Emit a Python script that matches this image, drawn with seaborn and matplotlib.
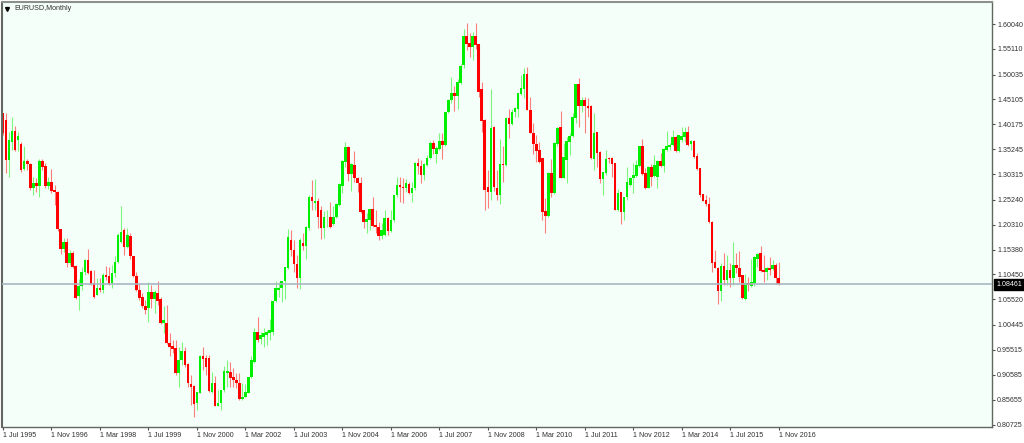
import pandas as pd
import seaborn as sns
import matplotlib.pyplot as plt
from matplotlib.transforms import blended_transform_factory

opens = [
    1.424, 1.410, 1.331, 1.367, 1.389, 1.371, 1.362, 1.313, 1.329, 1.323,
    1.275, 1.286, 1.280, 1.329, 1.319, 1.280, 1.288, 1.272, 1.268, 1.194,
    1.154, 1.169, 1.128, 1.146, 1.121, 1.062, 1.082, 1.110, 1.134, 1.112,
    1.087, 1.064, 1.077, 1.074, 1.103, 1.101, 1.087, 1.108, 1.130, 1.169,
    1.193, 1.158, 1.181, 1.140, 1.101, 1.074, 1.059, 1.042, 1.037, 1.070,
    1.055, 1.068, 1.055, 1.008, 1.009, 0.969, 0.963, 0.958, 0.910, 0.935,
    0.952, 0.927, 0.888, 0.884, 0.849, 0.870, 0.942, 0.938, 0.938, 0.872,
    0.889, 0.844, 0.849, 0.876, 0.910, 0.912, 0.901, 0.895, 0.890, 0.857,
    0.862, 0.870, 0.901, 0.932, 0.991, 0.976, 0.981, 0.985, 0.988, 0.991,
    1.051, 1.074, 1.077, 1.092, 1.117, 1.173, 1.153, 1.125, 1.097, 1.167,
    1.160, 1.196, 1.258, 1.245, 1.249, 1.232, 1.196, 1.218, 1.219, 1.204,
    1.218, 1.242, 1.280, 1.328, 1.356, 1.303, 1.321, 1.296, 1.286, 1.232,
    1.209, 1.212, 1.235, 1.202, 1.199, 1.181, 1.183, 1.216, 1.191, 1.212,
    1.262, 1.282, 1.278, 1.276, 1.283, 1.266, 1.275, 1.325, 1.320, 1.301,
    1.321, 1.336, 1.365, 1.342, 1.353, 1.369, 1.361, 1.427, 1.449, 1.464,
    1.458, 1.484, 1.519, 1.577, 1.562, 1.555, 1.577, 1.561, 1.471, 1.410,
    1.277, 1.268, 1.397, 1.275, 1.262, 1.323, 1.321, 1.415, 1.402, 1.427,
    1.433, 1.462, 1.471, 1.501, 1.431, 1.385, 1.362, 1.351, 1.336, 1.230,
    1.220, 1.306, 1.265, 1.363, 1.396, 1.296, 1.331, 1.367, 1.379, 1.414,
    1.481, 1.438, 1.450, 1.438, 1.438, 1.334, 1.387, 1.346, 1.293, 1.305,
    1.336, 1.336, 1.325, 1.233, 1.268, 1.229, 1.257, 1.282, 1.295, 1.299,
    1.319, 1.358, 1.306, 1.276, 1.317, 1.299, 1.298, 1.329, 1.320, 1.351,
    1.356, 1.361, 1.376, 1.348, 1.371, 1.377, 1.387, 1.363, 1.369, 1.339,
    1.315, 1.263, 1.251, 1.244, 1.209, 1.130, 1.118, 1.072, 1.121, 1.093,
    1.113, 1.097, 1.123, 1.118, 1.103, 1.056, 1.087, 1.082, 1.088, 1.136,
    1.146, 1.113, 1.110, 1.117, 1.115, 1.123, 1.097,
]
highs = [
    1.424, 1.424, 1.387, 1.417, 1.398, 1.387, 1.367, 1.358, 1.334, 1.326,
    1.298, 1.295, 1.334, 1.334, 1.325, 1.298, 1.313, 1.282, 1.270, 1.194,
    1.176, 1.176, 1.153, 1.150, 1.123, 1.095, 1.120, 1.136, 1.154, 1.113,
    1.113, 1.097, 1.097, 1.108, 1.121, 1.120, 1.123, 1.140, 1.186, 1.240,
    1.196, 1.196, 1.186, 1.140, 1.110, 1.087, 1.067, 1.054, 1.090, 1.084,
    1.074, 1.092, 1.059, 1.041, 1.044, 0.988, 0.975, 0.975, 0.961, 0.971,
    0.960, 0.930, 0.905, 0.886, 0.872, 0.945, 0.960, 0.945, 0.945, 0.912,
    0.903, 0.876, 0.876, 0.923, 0.935, 0.932, 0.919, 0.909, 0.909, 0.889,
    0.888, 0.902, 0.942, 0.998, 1.021, 0.991, 0.998, 0.994, 1.016, 1.051,
    1.092, 1.090, 1.092, 1.119, 1.194, 1.193, 1.173, 1.143, 1.176, 1.186,
    1.200, 1.262, 1.292, 1.293, 1.255, 1.239, 1.231, 1.233, 1.247, 1.239,
    1.245, 1.285, 1.331, 1.367, 1.358, 1.326, 1.348, 1.298, 1.298, 1.233,
    1.226, 1.235, 1.258, 1.232, 1.208, 1.207, 1.232, 1.219, 1.232, 1.262,
    1.298, 1.298, 1.295, 1.293, 1.288, 1.288, 1.328, 1.336, 1.331, 1.325,
    1.341, 1.369, 1.371, 1.358, 1.385, 1.384, 1.427, 1.451, 1.496, 1.478,
    1.491, 1.521, 1.590, 1.602, 1.582, 1.584, 1.603, 1.561, 1.486, 1.412,
    1.311, 1.472, 1.398, 1.311, 1.372, 1.358, 1.416, 1.433, 1.433, 1.437,
    1.464, 1.499, 1.513, 1.515, 1.456, 1.404, 1.381, 1.367, 1.336, 1.255,
    1.308, 1.334, 1.367, 1.397, 1.429, 1.364, 1.377, 1.385, 1.424, 1.482,
    1.493, 1.456, 1.456, 1.453, 1.440, 1.424, 1.387, 1.348, 1.308, 1.350,
    1.338, 1.338, 1.325, 1.273, 1.268, 1.258, 1.318, 1.298, 1.325, 1.331,
    1.359, 1.372, 1.315, 1.320, 1.323, 1.341, 1.331, 1.344, 1.354, 1.389,
    1.364, 1.390, 1.379, 1.381, 1.396, 1.396, 1.398, 1.371, 1.371, 1.344,
    1.316, 1.263, 1.262, 1.257, 1.210, 1.153, 1.120, 1.127, 1.146, 1.143,
    1.127, 1.169, 1.146, 1.150, 1.103, 1.105, 1.099, 1.136, 1.140, 1.146,
    1.161, 1.143, 1.120, 1.138, 1.133, 1.127, 1.130,
]
lows = [
    1.381, 1.306, 1.298, 1.351, 1.348, 1.348, 1.308, 1.311, 1.311, 1.272,
    1.262, 1.268, 1.258, 1.311, 1.275, 1.273, 1.266, 1.242, 1.191, 1.145,
    1.148, 1.120, 1.123, 1.117, 1.055, 1.034, 1.074, 1.103, 1.105, 1.084,
    1.058, 1.064, 1.070, 1.068, 1.093, 1.084, 1.077, 1.100, 1.127, 1.166,
    1.143, 1.156, 1.136, 1.099, 1.072, 1.054, 1.037, 1.026, 1.011, 1.037,
    1.028, 1.044, 1.006, 0.988, 0.967, 0.942, 0.948, 0.905, 0.882, 0.925,
    0.922, 0.882, 0.846, 0.823, 0.836, 0.869, 0.915, 0.905, 0.872, 0.870,
    0.843, 0.843, 0.835, 0.872, 0.882, 0.882, 0.882, 0.879, 0.856, 0.856,
    0.861, 0.869, 0.899, 0.930, 0.971, 0.967, 0.960, 0.965, 0.975, 0.985,
    1.049, 1.060, 1.049, 1.055, 1.115, 1.140, 1.110, 1.077, 1.075, 1.153,
    1.136, 1.193, 1.232, 1.233, 1.196, 1.175, 1.176, 1.199, 1.196, 1.202,
    1.216, 1.240, 1.266, 1.318, 1.290, 1.270, 1.288, 1.268, 1.227, 1.196,
    1.186, 1.193, 1.198, 1.186, 1.173, 1.174, 1.181, 1.183, 1.189, 1.209,
    1.258, 1.247, 1.245, 1.268, 1.264, 1.247, 1.272, 1.303, 1.285, 1.292,
    1.319, 1.334, 1.343, 1.325, 1.351, 1.334, 1.359, 1.424, 1.443, 1.429,
    1.433, 1.482, 1.513, 1.549, 1.536, 1.529, 1.550, 1.455, 1.387, 1.232,
    1.237, 1.252, 1.270, 1.251, 1.244, 1.288, 1.319, 1.374, 1.400, 1.417,
    1.417, 1.460, 1.453, 1.430, 1.384, 1.343, 1.327, 1.326, 1.212, 1.186,
    1.219, 1.258, 1.264, 1.358, 1.295, 1.295, 1.285, 1.341, 1.377, 1.404,
    1.396, 1.427, 1.384, 1.417, 1.334, 1.311, 1.318, 1.285, 1.262, 1.301,
    1.325, 1.298, 1.232, 1.231, 1.204, 1.212, 1.252, 1.280, 1.265, 1.298,
    1.318, 1.301, 1.273, 1.275, 1.280, 1.297, 1.275, 1.318, 1.308, 1.348,
    1.350, 1.359, 1.346, 1.346, 1.367, 1.367, 1.358, 1.351, 1.336, 1.311,
    1.258, 1.249, 1.239, 1.207, 1.110, 1.117, 1.046, 1.051, 1.084, 1.084,
    1.080, 1.084, 1.107, 1.090, 1.056, 1.054, 1.072, 1.080, 1.082, 1.120,
    1.110, 1.090, 1.093, 1.103, 1.113, 1.086, 1.084,
]
closes = [
    1.384, 1.331, 1.371, 1.389, 1.351, 1.379, 1.311, 1.329, 1.323, 1.275,
    1.285, 1.280, 1.329, 1.318, 1.280, 1.288, 1.270, 1.267, 1.194, 1.154,
    1.169, 1.128, 1.146, 1.120, 1.057, 1.082, 1.110, 1.133, 1.108, 1.086,
    1.060, 1.077, 1.074, 1.103, 1.100, 1.086, 1.108, 1.130, 1.183, 1.189,
    1.158, 1.183, 1.140, 1.101, 1.074, 1.057, 1.041, 1.035, 1.070, 1.055,
    1.070, 1.051, 1.009, 1.014, 0.968, 0.961, 0.956, 0.909, 0.935, 0.952,
    0.925, 0.889, 0.882, 0.848, 0.872, 0.942, 0.936, 0.922, 0.874, 0.890,
    0.844, 0.849, 0.876, 0.913, 0.913, 0.899, 0.895, 0.889, 0.857, 0.862,
    0.872, 0.901, 0.935, 0.991, 0.975, 0.985, 0.988, 0.991, 0.994, 1.051,
    1.077, 1.077, 1.092, 1.119, 1.178, 1.153, 1.125, 1.097, 1.173, 1.160,
    1.199, 1.258, 1.249, 1.249, 1.218, 1.196, 1.218, 1.219, 1.199, 1.218,
    1.244, 1.284, 1.329, 1.356, 1.303, 1.323, 1.296, 1.286, 1.229, 1.209,
    1.214, 1.235, 1.200, 1.198, 1.181, 1.193, 1.216, 1.191, 1.212, 1.262,
    1.282, 1.277, 1.275, 1.285, 1.266, 1.275, 1.325, 1.320, 1.301, 1.323,
    1.336, 1.365, 1.352, 1.354, 1.369, 1.361, 1.427, 1.449, 1.463, 1.458,
    1.486, 1.517, 1.577, 1.561, 1.554, 1.577, 1.559, 1.466, 1.409, 1.272,
    1.268, 1.394, 1.278, 1.262, 1.323, 1.321, 1.415, 1.402, 1.427, 1.435,
    1.463, 1.473, 1.501, 1.431, 1.385, 1.362, 1.349, 1.328, 1.229, 1.221,
    1.306, 1.266, 1.364, 1.394, 1.296, 1.338, 1.369, 1.379, 1.416, 1.481,
    1.438, 1.450, 1.438, 1.435, 1.336, 1.385, 1.344, 1.293, 1.308, 1.334,
    1.334, 1.323, 1.233, 1.266, 1.229, 1.258, 1.288, 1.296, 1.301, 1.321,
    1.358, 1.303, 1.276, 1.317, 1.298, 1.321, 1.329, 1.320, 1.353, 1.358,
    1.361, 1.376, 1.348, 1.381, 1.379, 1.387, 1.361, 1.369, 1.338, 1.313,
    1.262, 1.250, 1.243, 1.209, 1.128, 1.118, 1.072, 1.121, 1.093, 1.113,
    1.097, 1.123, 1.117, 1.100, 1.057, 1.087, 1.083, 1.090, 1.138, 1.145,
    1.112, 1.110, 1.117, 1.113, 1.123, 1.097, 1.08461,
]

date_labels = ['1 Jul 1995', '1 Nov 1996', '1 Mar 1998', '1 Jul 1999', '1 Nov 2000',
               '1 Mar 2002', '1 Jul 2003', '1 Nov 2004', '1 Mar 2006', '1 Jul 2007',
               '1 Nov 2008', '1 Mar 2010', '1 Jul 2011', '1 Nov 2012', '1 Mar 2014',
               '1 Jul 2015', '1 Nov 2016']
date_ticks = [0, 16, 32, 48, 64, 80, 96, 112, 128, 144, 160, 176, 192, 208, 224, 240, 256]
price_ticks = [1.60040, 1.55110, 1.50035, 1.45105, 1.40175, 1.35245, 1.30315, 1.25240, 1.20310,
               1.15380, 1.10450, 1.05520, 1.00445, 0.95515, 0.90585, 0.85655, 0.80725]
last_price = 1.08461

sns.set_style('white')
plt.rcParams['font.family'] = ['Liberation Sans', 'DejaVu Sans']

df = pd.DataFrame({'open': opens, 'high': highs, 'low': lows, 'close': closes})
df['bar'] = df.index
df['up'] = df['close'] >= df['open']
df['bottom'] = df[['open', 'close']].min(axis=1)
df['body'] = (df['close'] - df['open']).abs()

fig = plt.figure(figsize=(10.24, 4.43), dpi=100, facecolor='white')
ax = fig.add_axes([2/1024, 1-427/443, 990/1024, 425.5/443], facecolor='#f5fff9')

for is_up, colour in [(True, '#00ee00'), (False, '#ff0000')]:
    part = df[df['up'] == is_up]
    ax.vlines(part['bar'], part['low'], part['high'], color=colour, lw=0.8, alpha=0.5, zorder=1)
    sns.barplot(x=part['bar'], y=part['body'], bottom=part['bottom'].values, native_scale=True,
                color=colour, saturation=1, width=0.85, errorbar=None, linewidth=0, ax=ax, zorder=2)

ax.axhline(last_price, color='#a9b6c4', lw=1.2, zorder=3)

ax.set_xlim(-0.33, 326.4)
ax.set_ylim(0.8023, 1.645)
ax.set_xlabel('')
ax.set_ylabel('')

ax.yaxis.tick_right()
ax.set_yticks(price_ticks)
ax.set_yticklabels(['{:.5f}'.format(p) for p in price_ticks], fontsize=5.1, color='#303030')
ax.set_xticks(date_ticks)
ax.set_xticklabels(date_labels, fontsize=5.1, color='#303030', ha='left')
ax.tick_params(axis='y', right=True, length=2.5, width=0.8, color='#505050', pad=1.2)
ax.tick_params(axis='x', bottom=True, length=2.5, width=0.8, color='#505050', pad=1.2)

for side, spine in ax.spines.items():
    spine.set_visible(True)
    spine.set_color('#606860')
    spine.set_linewidth(1.0)
ax.spines['left'].set_linewidth(1.5)
ax.spines['top'].set_linewidth(1.5)
ax.spines['top'].set_color('#8a908a')

# last price flag on the scale
trans = blended_transform_factory(ax.transAxes, ax.transData)
ax.text(1.0045, last_price, '1.08461', transform=trans, fontsize=5.1, color='white', va='center', ha='left',
        clip_on=False, zorder=5, bbox=dict(facecolor='black', edgecolor='black', pad=1.6))

ax.plot([0.0052], [0.982], marker='v', ms=2.8, color='black', transform=ax.transAxes, clip_on=False)
ax.text(0.0125, 0.9825, 'EURUSD,Monthly', transform=ax.transAxes, fontsize=5.1, color='#303030', va='center', ha='left')

plt.savefig('out.png', dpi=100)
